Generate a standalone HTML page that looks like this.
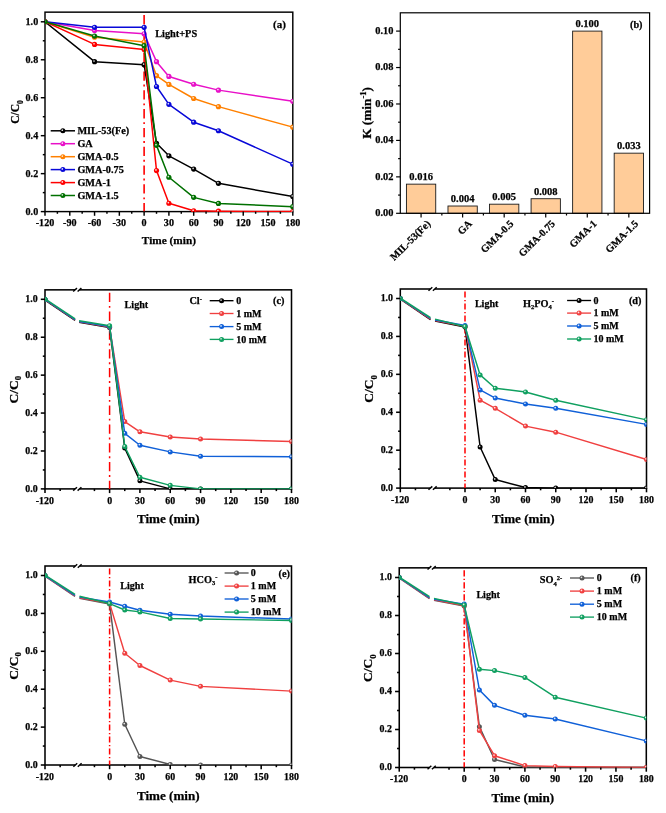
<!DOCTYPE html><html><head><meta charset="utf-8"><title>Figure</title><style>html,body{margin:0;padding:0;background:#fff}svg{display:block;will-change:transform}</style></head><body><svg width="666" height="813" viewBox="0 0 666 813" font-family="'Liberation Serif','Times New Roman',serif" font-weight="bold" fill="#000"><style>text{stroke:#000;stroke-width:0.25px;paint-order:stroke}</style><rect width="666" height="813" fill="#fff"/><clipPath id="ca"><rect x="45.0" y="12.15" width="247.8" height="199.75"/></clipPath><rect x="45.00" y="12.15" width="247.80" height="199.45" fill="none" stroke="#000" stroke-width="1.45"/><line x1="144.12" y1="15.10" x2="144.12" y2="211.60" stroke="#ff0000" stroke-width="1.6" stroke-dasharray="9.3 3.8 1.9 3.8"/><g clip-path="url(#ca)"><path d="M45.00 21.80 L94.56 61.66 L144.12 64.69 L156.51 143.27 L168.90 155.80 L193.68 169.08 L218.46 183.32 L292.80 196.61" fill="none" stroke="#000000" stroke-width="1.5" stroke-linejoin="round"/><circle cx="45.00" cy="21.80" r="2.6" fill="#000000"/><circle cx="44.45" cy="21.15" r="0.85" fill="#fff" fill-opacity="0.85"/><circle cx="94.56" cy="61.66" r="2.6" fill="#000000"/><circle cx="94.01" cy="61.01" r="0.85" fill="#fff" fill-opacity="0.85"/><circle cx="144.12" cy="64.69" r="2.6" fill="#000000"/><circle cx="143.57" cy="64.04" r="0.85" fill="#fff" fill-opacity="0.85"/><circle cx="156.51" cy="143.27" r="2.6" fill="#000000"/><circle cx="155.96" cy="142.62" r="0.85" fill="#fff" fill-opacity="0.85"/><circle cx="168.90" cy="155.80" r="2.6" fill="#000000"/><circle cx="168.35" cy="155.15" r="0.85" fill="#fff" fill-opacity="0.85"/><circle cx="193.68" cy="169.08" r="2.6" fill="#000000"/><circle cx="193.13" cy="168.43" r="0.85" fill="#fff" fill-opacity="0.85"/><circle cx="218.46" cy="183.32" r="2.6" fill="#000000"/><circle cx="217.91" cy="182.67" r="0.85" fill="#fff" fill-opacity="0.85"/><circle cx="292.80" cy="196.61" r="2.6" fill="#000000"/><circle cx="292.25" cy="195.96" r="0.85" fill="#fff" fill-opacity="0.85"/><path d="M45.00 21.80 L94.56 30.53 L144.12 33.76 L156.51 61.66 L168.90 76.46 L193.68 84.24 L218.46 90.13 L292.80 101.33" fill="none" stroke="#e810c8" stroke-width="1.5" stroke-linejoin="round"/><circle cx="45.00" cy="21.80" r="2.6" fill="#e810c8"/><circle cx="44.45" cy="21.15" r="0.85" fill="#fff" fill-opacity="0.85"/><circle cx="94.56" cy="30.53" r="2.6" fill="#e810c8"/><circle cx="94.01" cy="29.88" r="0.85" fill="#fff" fill-opacity="0.85"/><circle cx="144.12" cy="33.76" r="2.6" fill="#e810c8"/><circle cx="143.57" cy="33.11" r="0.85" fill="#fff" fill-opacity="0.85"/><circle cx="156.51" cy="61.66" r="2.6" fill="#e810c8"/><circle cx="155.96" cy="61.01" r="0.85" fill="#fff" fill-opacity="0.85"/><circle cx="168.90" cy="76.46" r="2.6" fill="#e810c8"/><circle cx="168.35" cy="75.81" r="0.85" fill="#fff" fill-opacity="0.85"/><circle cx="193.68" cy="84.24" r="2.6" fill="#e810c8"/><circle cx="193.13" cy="83.59" r="0.85" fill="#fff" fill-opacity="0.85"/><circle cx="218.46" cy="90.13" r="2.6" fill="#e810c8"/><circle cx="217.91" cy="89.48" r="0.85" fill="#fff" fill-opacity="0.85"/><circle cx="292.80" cy="101.33" r="2.6" fill="#e810c8"/><circle cx="292.25" cy="100.68" r="0.85" fill="#fff" fill-opacity="0.85"/><path d="M45.00 21.80 L94.56 37.17 L144.12 42.11 L156.51 75.70 L168.90 84.43 L193.68 98.48 L218.46 106.64 L292.80 127.14" fill="none" stroke="#ff8000" stroke-width="1.5" stroke-linejoin="round"/><circle cx="45.00" cy="21.80" r="2.6" fill="#ff8000"/><circle cx="44.45" cy="21.15" r="0.85" fill="#fff" fill-opacity="0.85"/><circle cx="94.56" cy="37.17" r="2.6" fill="#ff8000"/><circle cx="94.01" cy="36.52" r="0.85" fill="#fff" fill-opacity="0.85"/><circle cx="144.12" cy="42.11" r="2.6" fill="#ff8000"/><circle cx="143.57" cy="41.46" r="0.85" fill="#fff" fill-opacity="0.85"/><circle cx="156.51" cy="75.70" r="2.6" fill="#ff8000"/><circle cx="155.96" cy="75.05" r="0.85" fill="#fff" fill-opacity="0.85"/><circle cx="168.90" cy="84.43" r="2.6" fill="#ff8000"/><circle cx="168.35" cy="83.78" r="0.85" fill="#fff" fill-opacity="0.85"/><circle cx="193.68" cy="98.48" r="2.6" fill="#ff8000"/><circle cx="193.13" cy="97.83" r="0.85" fill="#fff" fill-opacity="0.85"/><circle cx="218.46" cy="106.64" r="2.6" fill="#ff8000"/><circle cx="217.91" cy="105.99" r="0.85" fill="#fff" fill-opacity="0.85"/><circle cx="292.80" cy="127.14" r="2.6" fill="#ff8000"/><circle cx="292.25" cy="126.49" r="0.85" fill="#fff" fill-opacity="0.85"/><path d="M45.00 21.80 L94.56 27.30 L144.12 27.30 L156.51 86.52 L168.90 104.36 L193.68 122.20 L218.46 130.75 L292.80 164.15" fill="none" stroke="#0808d8" stroke-width="1.5" stroke-linejoin="round"/><circle cx="45.00" cy="21.80" r="2.6" fill="#0808d8"/><circle cx="44.45" cy="21.15" r="0.85" fill="#fff" fill-opacity="0.85"/><circle cx="94.56" cy="27.30" r="2.6" fill="#0808d8"/><circle cx="94.01" cy="26.65" r="0.85" fill="#fff" fill-opacity="0.85"/><circle cx="144.12" cy="27.30" r="2.6" fill="#0808d8"/><circle cx="143.57" cy="26.65" r="0.85" fill="#fff" fill-opacity="0.85"/><circle cx="156.51" cy="86.52" r="2.6" fill="#0808d8"/><circle cx="155.96" cy="85.87" r="0.85" fill="#fff" fill-opacity="0.85"/><circle cx="168.90" cy="104.36" r="2.6" fill="#0808d8"/><circle cx="168.35" cy="103.71" r="0.85" fill="#fff" fill-opacity="0.85"/><circle cx="193.68" cy="122.20" r="2.6" fill="#0808d8"/><circle cx="193.13" cy="121.55" r="0.85" fill="#fff" fill-opacity="0.85"/><circle cx="218.46" cy="130.75" r="2.6" fill="#0808d8"/><circle cx="217.91" cy="130.10" r="0.85" fill="#fff" fill-opacity="0.85"/><circle cx="292.80" cy="164.15" r="2.6" fill="#0808d8"/><circle cx="292.25" cy="163.50" r="0.85" fill="#fff" fill-opacity="0.85"/><path d="M45.00 21.80 L94.56 44.39 L144.12 49.51 L156.51 170.60 L168.90 203.25 L193.68 210.84 L218.46 211.22 L292.80 211.60" fill="none" stroke="#ff0000" stroke-width="1.5" stroke-linejoin="round"/><circle cx="45.00" cy="21.80" r="2.6" fill="#ff0000"/><circle cx="44.45" cy="21.15" r="0.85" fill="#fff" fill-opacity="0.85"/><circle cx="94.56" cy="44.39" r="2.6" fill="#ff0000"/><circle cx="94.01" cy="43.74" r="0.85" fill="#fff" fill-opacity="0.85"/><circle cx="144.12" cy="49.51" r="2.6" fill="#ff0000"/><circle cx="143.57" cy="48.86" r="0.85" fill="#fff" fill-opacity="0.85"/><circle cx="156.51" cy="170.60" r="2.6" fill="#ff0000"/><circle cx="155.96" cy="169.95" r="0.85" fill="#fff" fill-opacity="0.85"/><circle cx="168.90" cy="203.25" r="2.6" fill="#ff0000"/><circle cx="168.35" cy="202.60" r="0.85" fill="#fff" fill-opacity="0.85"/><circle cx="193.68" cy="210.84" r="2.6" fill="#ff0000"/><circle cx="193.13" cy="210.19" r="0.85" fill="#fff" fill-opacity="0.85"/><circle cx="218.46" cy="211.22" r="2.6" fill="#ff0000"/><circle cx="217.91" cy="210.57" r="0.85" fill="#fff" fill-opacity="0.85"/><circle cx="292.80" cy="211.60" r="2.6" fill="#ff0000"/><circle cx="292.25" cy="210.95" r="0.85" fill="#fff" fill-opacity="0.85"/><path d="M45.00 21.80 L94.56 36.03 L144.12 45.71 L156.51 145.36 L168.90 177.25 L193.68 197.36 L218.46 203.44 L292.80 206.67" fill="none" stroke="#007000" stroke-width="1.5" stroke-linejoin="round"/><circle cx="45.00" cy="21.80" r="2.6" fill="#007000"/><circle cx="44.45" cy="21.15" r="0.85" fill="#fff" fill-opacity="0.85"/><circle cx="94.56" cy="36.03" r="2.6" fill="#007000"/><circle cx="94.01" cy="35.38" r="0.85" fill="#fff" fill-opacity="0.85"/><circle cx="144.12" cy="45.71" r="2.6" fill="#007000"/><circle cx="143.57" cy="45.06" r="0.85" fill="#fff" fill-opacity="0.85"/><circle cx="156.51" cy="145.36" r="2.6" fill="#007000"/><circle cx="155.96" cy="144.71" r="0.85" fill="#fff" fill-opacity="0.85"/><circle cx="168.90" cy="177.25" r="2.6" fill="#007000"/><circle cx="168.35" cy="176.60" r="0.85" fill="#fff" fill-opacity="0.85"/><circle cx="193.68" cy="197.36" r="2.6" fill="#007000"/><circle cx="193.13" cy="196.71" r="0.85" fill="#fff" fill-opacity="0.85"/><circle cx="218.46" cy="203.44" r="2.6" fill="#007000"/><circle cx="217.91" cy="202.79" r="0.85" fill="#fff" fill-opacity="0.85"/><circle cx="292.80" cy="206.67" r="2.6" fill="#007000"/><circle cx="292.25" cy="206.02" r="0.85" fill="#fff" fill-opacity="0.85"/></g><line x1="40.80" y1="211.60" x2="45.00" y2="211.60" stroke="#000" stroke-width="1.45"/><text x="38.20" y="214.63" font-size="10.1" text-anchor="end" >0.0</text><line x1="40.80" y1="173.64" x2="45.00" y2="173.64" stroke="#000" stroke-width="1.45"/><text x="38.20" y="176.67" font-size="10.1" text-anchor="end" >0.2</text><line x1="40.80" y1="135.68" x2="45.00" y2="135.68" stroke="#000" stroke-width="1.45"/><text x="38.20" y="138.71" font-size="10.1" text-anchor="end" >0.4</text><line x1="40.80" y1="97.72" x2="45.00" y2="97.72" stroke="#000" stroke-width="1.45"/><text x="38.20" y="100.75" font-size="10.1" text-anchor="end" >0.6</text><line x1="40.80" y1="59.76" x2="45.00" y2="59.76" stroke="#000" stroke-width="1.45"/><text x="38.20" y="62.79" font-size="10.1" text-anchor="end" >0.8</text><line x1="40.80" y1="21.80" x2="45.00" y2="21.80" stroke="#000" stroke-width="1.45"/><text x="38.20" y="24.83" font-size="10.1" text-anchor="end" >1.0</text><line x1="42.80" y1="192.62" x2="45.00" y2="192.62" stroke="#000" stroke-width="1.45"/><line x1="42.80" y1="154.66" x2="45.00" y2="154.66" stroke="#000" stroke-width="1.45"/><line x1="42.80" y1="116.70" x2="45.00" y2="116.70" stroke="#000" stroke-width="1.45"/><line x1="42.80" y1="78.74" x2="45.00" y2="78.74" stroke="#000" stroke-width="1.45"/><line x1="42.80" y1="40.78" x2="45.00" y2="40.78" stroke="#000" stroke-width="1.45"/><line x1="45.00" y1="211.60" x2="45.00" y2="215.80" stroke="#000" stroke-width="1.45"/><text x="45.00" y="226.30" font-size="10.1" text-anchor="middle" >-120</text><line x1="69.78" y1="211.60" x2="69.78" y2="215.80" stroke="#000" stroke-width="1.45"/><text x="69.78" y="226.30" font-size="10.1" text-anchor="middle" >-90</text><line x1="94.56" y1="211.60" x2="94.56" y2="215.80" stroke="#000" stroke-width="1.45"/><text x="94.56" y="226.30" font-size="10.1" text-anchor="middle" >-60</text><line x1="119.34" y1="211.60" x2="119.34" y2="215.80" stroke="#000" stroke-width="1.45"/><text x="119.34" y="226.30" font-size="10.1" text-anchor="middle" >-30</text><line x1="144.12" y1="211.60" x2="144.12" y2="215.80" stroke="#000" stroke-width="1.45"/><text x="144.12" y="226.30" font-size="10.1" text-anchor="middle" >0</text><line x1="168.90" y1="211.60" x2="168.90" y2="215.80" stroke="#000" stroke-width="1.45"/><text x="168.90" y="226.30" font-size="10.1" text-anchor="middle" >30</text><line x1="193.68" y1="211.60" x2="193.68" y2="215.80" stroke="#000" stroke-width="1.45"/><text x="193.68" y="226.30" font-size="10.1" text-anchor="middle" >60</text><line x1="218.46" y1="211.60" x2="218.46" y2="215.80" stroke="#000" stroke-width="1.45"/><text x="218.46" y="226.30" font-size="10.1" text-anchor="middle" >90</text><line x1="243.24" y1="211.60" x2="243.24" y2="215.80" stroke="#000" stroke-width="1.45"/><text x="243.24" y="226.30" font-size="10.1" text-anchor="middle" >120</text><line x1="268.02" y1="211.60" x2="268.02" y2="215.80" stroke="#000" stroke-width="1.45"/><text x="268.02" y="226.30" font-size="10.1" text-anchor="middle" >150</text><line x1="292.80" y1="211.60" x2="292.80" y2="215.80" stroke="#000" stroke-width="1.45"/><text x="292.80" y="226.30" font-size="10.1" text-anchor="middle" >180</text><line x1="57.39" y1="211.60" x2="57.39" y2="213.80" stroke="#000" stroke-width="1.45"/><line x1="82.17" y1="211.60" x2="82.17" y2="213.80" stroke="#000" stroke-width="1.45"/><line x1="106.95" y1="211.60" x2="106.95" y2="213.80" stroke="#000" stroke-width="1.45"/><line x1="131.73" y1="211.60" x2="131.73" y2="213.80" stroke="#000" stroke-width="1.45"/><line x1="156.51" y1="211.60" x2="156.51" y2="213.80" stroke="#000" stroke-width="1.45"/><line x1="181.29" y1="211.60" x2="181.29" y2="213.80" stroke="#000" stroke-width="1.45"/><line x1="206.07" y1="211.60" x2="206.07" y2="213.80" stroke="#000" stroke-width="1.45"/><line x1="230.85" y1="211.60" x2="230.85" y2="213.80" stroke="#000" stroke-width="1.45"/><line x1="255.63" y1="211.60" x2="255.63" y2="213.80" stroke="#000" stroke-width="1.45"/><line x1="280.41" y1="211.60" x2="280.41" y2="213.80" stroke="#000" stroke-width="1.45"/><text x="168.90" y="244.00" font-size="11.3" text-anchor="middle" >Time (min)</text><text transform="translate(19.40,112.00) rotate(-90)" font-size="11.6" text-anchor="middle">C/C<tspan dy="3.25" font-size="7.54">0</tspan><tspan dy="-3.25" font-size="11.6">&#8203;</tspan></text><text x="155.20" y="36.70" font-size="10.3" text-anchor="start" >Light+PS</text><text x="273.00" y="27.90" font-size="11.0" text-anchor="start" >(a)</text><line x1="50.70" y1="130.80" x2="75.00" y2="130.80" stroke="#000000" stroke-width="1.5"/><circle cx="62.85" cy="130.80" r="2.5" fill="#000000"/><circle cx="62.30" cy="130.15" r="0.85" fill="#fff" fill-opacity="0.85"/><text x="77.40" y="134.29" font-size="10.25" text-anchor="start" >MIL-53(Fe)</text><line x1="50.70" y1="143.70" x2="75.00" y2="143.70" stroke="#e810c8" stroke-width="1.5"/><circle cx="62.85" cy="143.70" r="2.5" fill="#e810c8"/><circle cx="62.30" cy="143.05" r="0.85" fill="#fff" fill-opacity="0.85"/><text x="77.40" y="147.19" font-size="10.25" text-anchor="start" >GA</text><line x1="50.70" y1="156.70" x2="75.00" y2="156.70" stroke="#ff8000" stroke-width="1.5"/><circle cx="62.85" cy="156.70" r="2.5" fill="#ff8000"/><circle cx="62.30" cy="156.05" r="0.85" fill="#fff" fill-opacity="0.85"/><text x="77.40" y="160.19" font-size="10.25" text-anchor="start" >GMA-0.5</text><line x1="50.70" y1="169.60" x2="75.00" y2="169.60" stroke="#0808d8" stroke-width="1.5"/><circle cx="62.85" cy="169.60" r="2.5" fill="#0808d8"/><circle cx="62.30" cy="168.95" r="0.85" fill="#fff" fill-opacity="0.85"/><text x="77.40" y="173.09" font-size="10.25" text-anchor="start" >GMA-0.75</text><line x1="50.70" y1="182.60" x2="75.00" y2="182.60" stroke="#ff0000" stroke-width="1.5"/><circle cx="62.85" cy="182.60" r="2.5" fill="#ff0000"/><circle cx="62.30" cy="181.95" r="0.85" fill="#fff" fill-opacity="0.85"/><text x="77.40" y="186.09" font-size="10.25" text-anchor="start" >GMA-1</text><line x1="50.70" y1="195.50" x2="75.00" y2="195.50" stroke="#007000" stroke-width="1.5"/><circle cx="62.85" cy="195.50" r="2.5" fill="#007000"/><circle cx="62.30" cy="194.85" r="0.85" fill="#fff" fill-opacity="0.85"/><text x="77.40" y="198.99" font-size="10.25" text-anchor="start" >GMA-1.5</text><rect x="406.43" y="184.15" width="29.3" height="29.15" fill="#ffcc99" stroke="#1a1a1a" stroke-width="0.9"/><text x="421.07" y="180.45" font-size="10.5" text-anchor="middle" >0.016</text><line x1="421.07" y1="213.3" x2="421.07" y2="217.5" stroke="#000" stroke-width="1.2"/><text transform="translate(431.07,224.30) rotate(-45)" font-size="10.3" text-anchor="end">MIL-53(Fe)</text><rect x="447.98" y="206.01" width="29.3" height="7.29" fill="#ffcc99" stroke="#1a1a1a" stroke-width="0.9"/><text x="462.62" y="202.31" font-size="10.5" text-anchor="middle" >0.004</text><line x1="462.62" y1="213.3" x2="462.62" y2="217.5" stroke="#000" stroke-width="1.2"/><text transform="translate(472.62,224.30) rotate(-45)" font-size="10.3" text-anchor="end">GA</text><rect x="489.53" y="204.19" width="29.3" height="9.11" fill="#ffcc99" stroke="#1a1a1a" stroke-width="0.9"/><text x="504.18" y="200.49" font-size="10.5" text-anchor="middle" >0.005</text><line x1="504.18" y1="213.3" x2="504.18" y2="217.5" stroke="#000" stroke-width="1.2"/><text transform="translate(514.17,224.30) rotate(-45)" font-size="10.3" text-anchor="end">GMA-0.5</text><rect x="531.08" y="198.72" width="29.3" height="14.58" fill="#ffcc99" stroke="#1a1a1a" stroke-width="0.9"/><text x="545.73" y="195.02" font-size="10.5" text-anchor="middle" >0.008</text><line x1="545.73" y1="213.3" x2="545.73" y2="217.5" stroke="#000" stroke-width="1.2"/><text transform="translate(555.73,224.30) rotate(-45)" font-size="10.3" text-anchor="end">GMA-0.75</text><rect x="572.63" y="31.10" width="29.3" height="182.20" fill="#ffcc99" stroke="#1a1a1a" stroke-width="0.9"/><text x="587.28" y="27.40" font-size="10.5" text-anchor="middle" >0.100</text><line x1="587.28" y1="213.3" x2="587.28" y2="217.5" stroke="#000" stroke-width="1.2"/><text transform="translate(597.28,224.30) rotate(-45)" font-size="10.3" text-anchor="end">GMA-1</text><rect x="614.18" y="153.17" width="29.3" height="60.13" fill="#ffcc99" stroke="#1a1a1a" stroke-width="0.9"/><text x="628.83" y="149.47" font-size="10.5" text-anchor="middle" >0.033</text><line x1="628.83" y1="213.3" x2="628.83" y2="217.5" stroke="#000" stroke-width="1.2"/><text transform="translate(638.83,224.30) rotate(-45)" font-size="10.3" text-anchor="end">GMA-1.5</text><line x1="441.85" y1="213.3" x2="441.85" y2="215.5" stroke="#000" stroke-width="1.2"/><line x1="483.40" y1="213.3" x2="483.40" y2="215.5" stroke="#000" stroke-width="1.2"/><line x1="524.95" y1="213.3" x2="524.95" y2="215.5" stroke="#000" stroke-width="1.2"/><line x1="566.50" y1="213.3" x2="566.50" y2="215.5" stroke="#000" stroke-width="1.2"/><line x1="608.05" y1="213.3" x2="608.05" y2="215.5" stroke="#000" stroke-width="1.2"/><rect x="400.30" y="12.80" width="249.30" height="200.50" fill="none" stroke="#000" stroke-width="1.2"/><line x1="396.10" y1="213.30" x2="400.30" y2="213.30" stroke="#000" stroke-width="1.2"/><text x="393.50" y="216.06" font-size="10.4" text-anchor="end" >0.00</text><line x1="396.10" y1="176.86" x2="400.30" y2="176.86" stroke="#000" stroke-width="1.2"/><text x="393.50" y="179.62" font-size="10.4" text-anchor="end" >0.02</text><line x1="396.10" y1="140.42" x2="400.30" y2="140.42" stroke="#000" stroke-width="1.2"/><text x="393.50" y="143.18" font-size="10.4" text-anchor="end" >0.04</text><line x1="396.10" y1="103.98" x2="400.30" y2="103.98" stroke="#000" stroke-width="1.2"/><text x="393.50" y="106.74" font-size="10.4" text-anchor="end" >0.06</text><line x1="396.10" y1="67.54" x2="400.30" y2="67.54" stroke="#000" stroke-width="1.2"/><text x="393.50" y="70.30" font-size="10.4" text-anchor="end" >0.08</text><line x1="396.10" y1="31.10" x2="400.30" y2="31.10" stroke="#000" stroke-width="1.2"/><text x="393.50" y="33.86" font-size="10.4" text-anchor="end" >0.10</text><line x1="398.10" y1="195.08" x2="400.30" y2="195.08" stroke="#000" stroke-width="1.2"/><line x1="398.10" y1="158.64" x2="400.30" y2="158.64" stroke="#000" stroke-width="1.2"/><line x1="398.10" y1="122.20" x2="400.30" y2="122.20" stroke="#000" stroke-width="1.2"/><line x1="398.10" y1="85.76" x2="400.30" y2="85.76" stroke="#000" stroke-width="1.2"/><line x1="398.10" y1="49.32" x2="400.30" y2="49.32" stroke="#000" stroke-width="1.2"/><text transform="translate(371.00,112.90) rotate(-90)" font-size="13.3" text-anchor="middle">K (min<tspan dy="-5.05" font-size="8.65">-1</tspan><tspan dy="5.05" font-size="13.3">&#8203;</tspan>)</text><text x="630.00" y="28.00" font-size="10.2" text-anchor="start" >(b)</text><clipPath id="cc"><rect x="45.0" y="289.85" width="246.5" height="199.34999999999997"/></clipPath><rect x="45.00" y="289.85" width="246.50" height="199.05" fill="none" stroke="#000" stroke-width="1.55"/><line x1="109.60" y1="292.80" x2="109.60" y2="488.90" stroke="#ff0000" stroke-width="1.5" stroke-dasharray="9.3 3.8 1.9 3.8"/><g clip-path="url(#cc)"><path d="M45.00 300.02 L75.10 320.40" fill="none" stroke="#000000" stroke-width="1.45" stroke-linejoin="round"/><path d="M79.10 322.30 L109.60 327.58 L124.76 448.10 L139.92 480.83 L170.23 488.90 L200.55 488.90 L291.50 488.90" fill="none" stroke="#000000" stroke-width="1.45" stroke-linejoin="round"/><circle cx="45.00" cy="299.30" r="2.5" fill="#000000"/><circle cx="44.45" cy="298.65" r="0.85" fill="#fff" fill-opacity="0.85"/><circle cx="109.60" cy="327.58" r="2.5" fill="#000000"/><circle cx="109.05" cy="326.93" r="0.85" fill="#fff" fill-opacity="0.85"/><circle cx="124.76" cy="448.10" r="2.5" fill="#000000"/><circle cx="124.21" cy="447.45" r="0.85" fill="#fff" fill-opacity="0.85"/><circle cx="139.92" cy="480.83" r="2.5" fill="#000000"/><circle cx="139.37" cy="480.18" r="0.85" fill="#fff" fill-opacity="0.85"/><circle cx="170.23" cy="488.90" r="2.5" fill="#000000"/><circle cx="169.68" cy="488.25" r="0.85" fill="#fff" fill-opacity="0.85"/><circle cx="200.55" cy="488.90" r="2.5" fill="#000000"/><circle cx="200.00" cy="488.25" r="0.85" fill="#fff" fill-opacity="0.85"/><circle cx="291.50" cy="488.90" r="2.5" fill="#000000"/><circle cx="290.95" cy="488.25" r="0.85" fill="#fff" fill-opacity="0.85"/><path d="M45.00 299.70 L75.10 320.00" fill="none" stroke="#f04040" stroke-width="1.45" stroke-linejoin="round"/><path d="M79.10 321.90 L109.60 327.01 L124.76 421.61 L139.92 431.83 L170.23 436.94 L200.55 439.02 L291.50 441.48" fill="none" stroke="#f04040" stroke-width="1.45" stroke-linejoin="round"/><circle cx="45.00" cy="299.30" r="2.5" fill="#f04040"/><circle cx="44.45" cy="298.65" r="0.85" fill="#fff" fill-opacity="0.85"/><circle cx="109.60" cy="327.01" r="2.5" fill="#f04040"/><circle cx="109.05" cy="326.36" r="0.85" fill="#fff" fill-opacity="0.85"/><circle cx="124.76" cy="421.61" r="2.5" fill="#f04040"/><circle cx="124.21" cy="420.96" r="0.85" fill="#fff" fill-opacity="0.85"/><circle cx="139.92" cy="431.83" r="2.5" fill="#f04040"/><circle cx="139.37" cy="431.18" r="0.85" fill="#fff" fill-opacity="0.85"/><circle cx="170.23" cy="436.94" r="2.5" fill="#f04040"/><circle cx="169.68" cy="436.29" r="0.85" fill="#fff" fill-opacity="0.85"/><circle cx="200.55" cy="439.02" r="2.5" fill="#f04040"/><circle cx="200.00" cy="438.37" r="0.85" fill="#fff" fill-opacity="0.85"/><circle cx="291.50" cy="441.48" r="2.5" fill="#f04040"/><circle cx="290.95" cy="440.83" r="0.85" fill="#fff" fill-opacity="0.85"/><path d="M45.00 299.38 L75.10 319.60" fill="none" stroke="#1060d8" stroke-width="1.45" stroke-linejoin="round"/><path d="M79.10 321.50 L109.60 326.44 L124.76 433.34 L139.92 445.26 L170.23 451.88 L200.55 456.24 L291.50 456.80" fill="none" stroke="#1060d8" stroke-width="1.45" stroke-linejoin="round"/><circle cx="45.00" cy="299.30" r="2.5" fill="#1060d8"/><circle cx="44.45" cy="298.65" r="0.85" fill="#fff" fill-opacity="0.85"/><circle cx="109.60" cy="326.44" r="2.5" fill="#1060d8"/><circle cx="109.05" cy="325.79" r="0.85" fill="#fff" fill-opacity="0.85"/><circle cx="124.76" cy="433.34" r="2.5" fill="#1060d8"/><circle cx="124.21" cy="432.69" r="0.85" fill="#fff" fill-opacity="0.85"/><circle cx="139.92" cy="445.26" r="2.5" fill="#1060d8"/><circle cx="139.37" cy="444.61" r="0.85" fill="#fff" fill-opacity="0.85"/><circle cx="170.23" cy="451.88" r="2.5" fill="#1060d8"/><circle cx="169.68" cy="451.23" r="0.85" fill="#fff" fill-opacity="0.85"/><circle cx="200.55" cy="456.24" r="2.5" fill="#1060d8"/><circle cx="200.00" cy="455.59" r="0.85" fill="#fff" fill-opacity="0.85"/><circle cx="291.50" cy="456.80" r="2.5" fill="#1060d8"/><circle cx="290.95" cy="456.15" r="0.85" fill="#fff" fill-opacity="0.85"/><path d="M45.00 298.82 L75.10 318.90" fill="none" stroke="#10a060" stroke-width="1.45" stroke-linejoin="round"/><path d="M79.10 320.80 L109.60 325.69 L124.76 446.59 L139.92 477.24 L170.23 485.37 L200.55 488.90 L291.50 488.90" fill="none" stroke="#10a060" stroke-width="1.45" stroke-linejoin="round"/><circle cx="45.00" cy="299.30" r="2.5" fill="#10a060"/><circle cx="44.45" cy="298.65" r="0.85" fill="#fff" fill-opacity="0.85"/><circle cx="109.60" cy="325.69" r="2.5" fill="#10a060"/><circle cx="109.05" cy="325.04" r="0.85" fill="#fff" fill-opacity="0.85"/><circle cx="124.76" cy="446.59" r="2.5" fill="#10a060"/><circle cx="124.21" cy="445.94" r="0.85" fill="#fff" fill-opacity="0.85"/><circle cx="139.92" cy="477.24" r="2.5" fill="#10a060"/><circle cx="139.37" cy="476.59" r="0.85" fill="#fff" fill-opacity="0.85"/><circle cx="170.23" cy="485.37" r="2.5" fill="#10a060"/><circle cx="169.68" cy="484.72" r="0.85" fill="#fff" fill-opacity="0.85"/><circle cx="200.55" cy="488.90" r="2.5" fill="#10a060"/><circle cx="200.00" cy="488.25" r="0.85" fill="#fff" fill-opacity="0.85"/><circle cx="291.50" cy="488.90" r="2.5" fill="#10a060"/><circle cx="290.95" cy="488.25" r="0.85" fill="#fff" fill-opacity="0.85"/></g><rect x="75.00" y="288.65" width="4.6" height="2.4" fill="#fff"/><line x1="73.20" y1="291.55" x2="77.00" y2="288.15" stroke="#000" stroke-width="1.45"/><line x1="77.60" y1="291.55" x2="81.40" y2="288.15" stroke="#000" stroke-width="1.45"/><rect x="75.00" y="487.70" width="4.6" height="2.4" fill="#fff"/><line x1="73.20" y1="490.60" x2="77.00" y2="487.20" stroke="#000" stroke-width="1.45"/><line x1="77.60" y1="490.60" x2="81.40" y2="487.20" stroke="#000" stroke-width="1.45"/><line x1="40.80" y1="488.90" x2="45.00" y2="488.90" stroke="#000" stroke-width="1.55"/><text x="37.70" y="491.87" font-size="9.9" text-anchor="end" >0.0</text><line x1="40.80" y1="450.98" x2="45.00" y2="450.98" stroke="#000" stroke-width="1.55"/><text x="37.70" y="453.95" font-size="9.9" text-anchor="end" >0.2</text><line x1="40.80" y1="413.06" x2="45.00" y2="413.06" stroke="#000" stroke-width="1.55"/><text x="37.70" y="416.03" font-size="9.9" text-anchor="end" >0.4</text><line x1="40.80" y1="375.14" x2="45.00" y2="375.14" stroke="#000" stroke-width="1.55"/><text x="37.70" y="378.11" font-size="9.9" text-anchor="end" >0.6</text><line x1="40.80" y1="337.22" x2="45.00" y2="337.22" stroke="#000" stroke-width="1.55"/><text x="37.70" y="340.19" font-size="9.9" text-anchor="end" >0.8</text><line x1="40.80" y1="299.30" x2="45.00" y2="299.30" stroke="#000" stroke-width="1.55"/><text x="37.70" y="302.27" font-size="9.9" text-anchor="end" >1.0</text><line x1="42.80" y1="469.94" x2="45.00" y2="469.94" stroke="#000" stroke-width="1.55"/><line x1="42.80" y1="432.02" x2="45.00" y2="432.02" stroke="#000" stroke-width="1.55"/><line x1="42.80" y1="394.10" x2="45.00" y2="394.10" stroke="#000" stroke-width="1.55"/><line x1="42.80" y1="356.18" x2="45.00" y2="356.18" stroke="#000" stroke-width="1.55"/><line x1="42.80" y1="318.26" x2="45.00" y2="318.26" stroke="#000" stroke-width="1.55"/><line x1="109.60" y1="488.90" x2="109.60" y2="493.10" stroke="#000" stroke-width="1.55"/><text x="109.60" y="503.60" font-size="9.9" text-anchor="middle" >0</text><line x1="139.92" y1="488.90" x2="139.92" y2="493.10" stroke="#000" stroke-width="1.55"/><text x="139.92" y="503.60" font-size="9.9" text-anchor="middle" >30</text><line x1="170.23" y1="488.90" x2="170.23" y2="493.10" stroke="#000" stroke-width="1.55"/><text x="170.23" y="503.60" font-size="9.9" text-anchor="middle" >60</text><line x1="200.55" y1="488.90" x2="200.55" y2="493.10" stroke="#000" stroke-width="1.55"/><text x="200.55" y="503.60" font-size="9.9" text-anchor="middle" >90</text><line x1="230.87" y1="488.90" x2="230.87" y2="493.10" stroke="#000" stroke-width="1.55"/><text x="230.87" y="503.60" font-size="9.9" text-anchor="middle" >120</text><line x1="261.18" y1="488.90" x2="261.18" y2="493.10" stroke="#000" stroke-width="1.55"/><text x="261.18" y="503.60" font-size="9.9" text-anchor="middle" >150</text><line x1="291.50" y1="488.90" x2="291.50" y2="493.10" stroke="#000" stroke-width="1.55"/><text x="291.50" y="503.60" font-size="9.9" text-anchor="middle" >180</text><line x1="94.44" y1="488.90" x2="94.44" y2="491.10" stroke="#000" stroke-width="1.55"/><line x1="124.76" y1="488.90" x2="124.76" y2="491.10" stroke="#000" stroke-width="1.55"/><line x1="155.07" y1="488.90" x2="155.07" y2="491.10" stroke="#000" stroke-width="1.55"/><line x1="185.39" y1="488.90" x2="185.39" y2="491.10" stroke="#000" stroke-width="1.55"/><line x1="215.71" y1="488.90" x2="215.71" y2="491.10" stroke="#000" stroke-width="1.55"/><line x1="246.03" y1="488.90" x2="246.03" y2="491.10" stroke="#000" stroke-width="1.55"/><line x1="276.34" y1="488.90" x2="276.34" y2="491.10" stroke="#000" stroke-width="1.55"/><line x1="60.16" y1="488.90" x2="60.16" y2="491.10" stroke="#000" stroke-width="1.55"/><line x1="45.00" y1="488.90" x2="45.00" y2="493.10" stroke="#000" stroke-width="1.55"/><text x="44.80" y="503.60" font-size="9.9" text-anchor="middle" >-120</text><text x="168.25" y="523.40" font-size="13.1" text-anchor="middle" >Time (min)</text><text transform="translate(17.70,389.77) rotate(-90)" font-size="13.5" text-anchor="middle">C/C<tspan dy="3.78" font-size="8.78">0</tspan><tspan dy="-3.78" font-size="13.5">&#8203;</tspan></text><text x="124.60" y="307.50" font-size="10.1" text-anchor="start" >Light</text><text x="189.40" y="304.30" font-size="10.3" text-anchor="start" >Cl<tspan dy="-3.80" font-size="6.50">-</tspan><tspan dy="3.80" font-size="10">&#8203;</tspan></text><text x="273.00" y="303.80" font-size="10.3" text-anchor="start" >(c)</text><line x1="209.70" y1="300.70" x2="233.50" y2="300.70" stroke="#000000" stroke-width="1.35"/><circle cx="221.60" cy="300.70" r="2.5" fill="#000000"/><circle cx="221.05" cy="300.05" r="0.85" fill="#fff" fill-opacity="0.85"/><text x="236.20" y="303.85" font-size="10.0" text-anchor="start" >0</text><line x1="209.70" y1="313.50" x2="233.50" y2="313.50" stroke="#f04040" stroke-width="1.35"/><circle cx="221.60" cy="313.50" r="2.5" fill="#f04040"/><circle cx="221.05" cy="312.85" r="0.85" fill="#fff" fill-opacity="0.85"/><text x="236.20" y="316.65" font-size="10.0" text-anchor="start" >1 mM</text><line x1="209.70" y1="326.60" x2="233.50" y2="326.60" stroke="#1060d8" stroke-width="1.35"/><circle cx="221.60" cy="326.60" r="2.5" fill="#1060d8"/><circle cx="221.05" cy="325.95" r="0.85" fill="#fff" fill-opacity="0.85"/><text x="236.20" y="329.75" font-size="10.0" text-anchor="start" >5 mM</text><line x1="209.70" y1="339.40" x2="233.50" y2="339.40" stroke="#10a060" stroke-width="1.35"/><circle cx="221.60" cy="339.40" r="2.5" fill="#10a060"/><circle cx="221.05" cy="338.75" r="0.85" fill="#fff" fill-opacity="0.85"/><text x="236.20" y="342.55" font-size="10.0" text-anchor="start" >10 mM</text><clipPath id="cd"><rect x="400.3" y="289.0" width="246.2" height="199.40000000000003"/></clipPath><rect x="400.30" y="289.00" width="246.20" height="199.10" fill="none" stroke="#000" stroke-width="1.55"/><line x1="465.00" y1="291.40" x2="465.00" y2="488.10" stroke="#ff0000" stroke-width="1.5" stroke-dasharray="6.2 2.3 1.3 2.2"/><g clip-path="url(#cd)"><path d="M400.30 299.02 L430.50 319.60" fill="none" stroke="#000000" stroke-width="1.45" stroke-linejoin="round"/><path d="M435.00 321.10 L465.00 326.94 L480.12 446.96 L495.25 479.57 L525.50 487.53 L555.75 488.10 L646.50 488.10" fill="none" stroke="#000000" stroke-width="1.45" stroke-linejoin="round"/><circle cx="400.30" cy="298.50" r="2.5" fill="#000000"/><circle cx="399.75" cy="297.85" r="0.85" fill="#fff" fill-opacity="0.85"/><circle cx="465.00" cy="326.94" r="2.5" fill="#000000"/><circle cx="464.45" cy="326.29" r="0.85" fill="#fff" fill-opacity="0.85"/><circle cx="480.12" cy="446.96" r="2.5" fill="#000000"/><circle cx="479.57" cy="446.31" r="0.85" fill="#fff" fill-opacity="0.85"/><circle cx="495.25" cy="479.57" r="2.5" fill="#000000"/><circle cx="494.70" cy="478.92" r="0.85" fill="#fff" fill-opacity="0.85"/><circle cx="525.50" cy="487.53" r="2.5" fill="#000000"/><circle cx="524.95" cy="486.88" r="0.85" fill="#fff" fill-opacity="0.85"/><circle cx="555.75" cy="488.10" r="2.5" fill="#000000"/><circle cx="555.20" cy="487.45" r="0.85" fill="#fff" fill-opacity="0.85"/><circle cx="646.50" cy="488.10" r="2.5" fill="#000000"/><circle cx="645.95" cy="487.45" r="0.85" fill="#fff" fill-opacity="0.85"/><path d="M400.30 298.82 L430.50 319.10" fill="none" stroke="#f04040" stroke-width="1.45" stroke-linejoin="round"/><path d="M435.00 320.60 L465.00 326.37 L480.12 400.13 L495.25 408.28 L525.50 426.10 L555.75 432.17 L646.50 459.47" fill="none" stroke="#f04040" stroke-width="1.45" stroke-linejoin="round"/><circle cx="400.30" cy="298.50" r="2.5" fill="#f04040"/><circle cx="399.75" cy="297.85" r="0.85" fill="#fff" fill-opacity="0.85"/><circle cx="465.00" cy="326.37" r="2.5" fill="#f04040"/><circle cx="464.45" cy="325.72" r="0.85" fill="#fff" fill-opacity="0.85"/><circle cx="480.12" cy="400.13" r="2.5" fill="#f04040"/><circle cx="479.57" cy="399.48" r="0.85" fill="#fff" fill-opacity="0.85"/><circle cx="495.25" cy="408.28" r="2.5" fill="#f04040"/><circle cx="494.70" cy="407.63" r="0.85" fill="#fff" fill-opacity="0.85"/><circle cx="525.50" cy="426.10" r="2.5" fill="#f04040"/><circle cx="524.95" cy="425.45" r="0.85" fill="#fff" fill-opacity="0.85"/><circle cx="555.75" cy="432.17" r="2.5" fill="#f04040"/><circle cx="555.20" cy="431.52" r="0.85" fill="#fff" fill-opacity="0.85"/><circle cx="646.50" cy="459.47" r="2.5" fill="#f04040"/><circle cx="645.95" cy="458.82" r="0.85" fill="#fff" fill-opacity="0.85"/><path d="M400.30 298.58 L430.50 318.50" fill="none" stroke="#1060d8" stroke-width="1.45" stroke-linejoin="round"/><path d="M435.00 320.00 L465.00 325.42 L480.12 389.89 L495.25 398.04 L525.50 403.92 L555.75 408.28 L646.50 424.39" fill="none" stroke="#1060d8" stroke-width="1.45" stroke-linejoin="round"/><circle cx="400.30" cy="298.50" r="2.5" fill="#1060d8"/><circle cx="399.75" cy="297.85" r="0.85" fill="#fff" fill-opacity="0.85"/><circle cx="465.00" cy="325.42" r="2.5" fill="#1060d8"/><circle cx="464.45" cy="324.77" r="0.85" fill="#fff" fill-opacity="0.85"/><circle cx="480.12" cy="389.89" r="2.5" fill="#1060d8"/><circle cx="479.57" cy="389.24" r="0.85" fill="#fff" fill-opacity="0.85"/><circle cx="495.25" cy="398.04" r="2.5" fill="#1060d8"/><circle cx="494.70" cy="397.39" r="0.85" fill="#fff" fill-opacity="0.85"/><circle cx="525.50" cy="403.92" r="2.5" fill="#1060d8"/><circle cx="524.95" cy="403.27" r="0.85" fill="#fff" fill-opacity="0.85"/><circle cx="555.75" cy="408.28" r="2.5" fill="#1060d8"/><circle cx="555.20" cy="407.63" r="0.85" fill="#fff" fill-opacity="0.85"/><circle cx="646.50" cy="424.39" r="2.5" fill="#1060d8"/><circle cx="645.95" cy="423.74" r="0.85" fill="#fff" fill-opacity="0.85"/><path d="M400.30 298.22 L430.50 317.60" fill="none" stroke="#10a060" stroke-width="1.45" stroke-linejoin="round"/><path d="M435.00 319.10 L465.00 326.56 L480.12 374.91 L495.25 388.18 L525.50 391.97 L555.75 400.32 L646.50 419.84" fill="none" stroke="#10a060" stroke-width="1.45" stroke-linejoin="round"/><circle cx="400.30" cy="298.50" r="2.5" fill="#10a060"/><circle cx="399.75" cy="297.85" r="0.85" fill="#fff" fill-opacity="0.85"/><circle cx="465.00" cy="326.56" r="2.5" fill="#10a060"/><circle cx="464.45" cy="325.91" r="0.85" fill="#fff" fill-opacity="0.85"/><circle cx="480.12" cy="374.91" r="2.5" fill="#10a060"/><circle cx="479.57" cy="374.26" r="0.85" fill="#fff" fill-opacity="0.85"/><circle cx="495.25" cy="388.18" r="2.5" fill="#10a060"/><circle cx="494.70" cy="387.53" r="0.85" fill="#fff" fill-opacity="0.85"/><circle cx="525.50" cy="391.97" r="2.5" fill="#10a060"/><circle cx="524.95" cy="391.32" r="0.85" fill="#fff" fill-opacity="0.85"/><circle cx="555.75" cy="400.32" r="2.5" fill="#10a060"/><circle cx="555.20" cy="399.67" r="0.85" fill="#fff" fill-opacity="0.85"/><circle cx="646.50" cy="419.84" r="2.5" fill="#10a060"/><circle cx="645.95" cy="419.19" r="0.85" fill="#fff" fill-opacity="0.85"/></g><rect x="430.30" y="287.80" width="4.6" height="2.4" fill="#fff"/><line x1="428.50" y1="290.70" x2="432.30" y2="287.30" stroke="#000" stroke-width="1.45"/><line x1="432.90" y1="290.70" x2="436.70" y2="287.30" stroke="#000" stroke-width="1.45"/><rect x="430.30" y="486.90" width="4.6" height="2.4" fill="#fff"/><line x1="428.50" y1="489.80" x2="432.30" y2="486.40" stroke="#000" stroke-width="1.45"/><line x1="432.90" y1="489.80" x2="436.70" y2="486.40" stroke="#000" stroke-width="1.45"/><line x1="396.10" y1="488.10" x2="400.30" y2="488.10" stroke="#000" stroke-width="1.55"/><text x="393.00" y="491.07" font-size="9.9" text-anchor="end" >0.0</text><line x1="396.10" y1="450.18" x2="400.30" y2="450.18" stroke="#000" stroke-width="1.55"/><text x="393.00" y="453.15" font-size="9.9" text-anchor="end" >0.2</text><line x1="396.10" y1="412.26" x2="400.30" y2="412.26" stroke="#000" stroke-width="1.55"/><text x="393.00" y="415.23" font-size="9.9" text-anchor="end" >0.4</text><line x1="396.10" y1="374.34" x2="400.30" y2="374.34" stroke="#000" stroke-width="1.55"/><text x="393.00" y="377.31" font-size="9.9" text-anchor="end" >0.6</text><line x1="396.10" y1="336.42" x2="400.30" y2="336.42" stroke="#000" stroke-width="1.55"/><text x="393.00" y="339.39" font-size="9.9" text-anchor="end" >0.8</text><line x1="396.10" y1="298.50" x2="400.30" y2="298.50" stroke="#000" stroke-width="1.55"/><text x="393.00" y="301.47" font-size="9.9" text-anchor="end" >1.0</text><line x1="398.10" y1="469.14" x2="400.30" y2="469.14" stroke="#000" stroke-width="1.55"/><line x1="398.10" y1="431.22" x2="400.30" y2="431.22" stroke="#000" stroke-width="1.55"/><line x1="398.10" y1="393.30" x2="400.30" y2="393.30" stroke="#000" stroke-width="1.55"/><line x1="398.10" y1="355.38" x2="400.30" y2="355.38" stroke="#000" stroke-width="1.55"/><line x1="398.10" y1="317.46" x2="400.30" y2="317.46" stroke="#000" stroke-width="1.55"/><line x1="465.00" y1="488.10" x2="465.00" y2="492.30" stroke="#000" stroke-width="1.55"/><text x="465.00" y="502.80" font-size="9.9" text-anchor="middle" >0</text><line x1="495.25" y1="488.10" x2="495.25" y2="492.30" stroke="#000" stroke-width="1.55"/><text x="495.25" y="502.80" font-size="9.9" text-anchor="middle" >30</text><line x1="525.50" y1="488.10" x2="525.50" y2="492.30" stroke="#000" stroke-width="1.55"/><text x="525.50" y="502.80" font-size="9.9" text-anchor="middle" >60</text><line x1="555.75" y1="488.10" x2="555.75" y2="492.30" stroke="#000" stroke-width="1.55"/><text x="555.75" y="502.80" font-size="9.9" text-anchor="middle" >90</text><line x1="586.00" y1="488.10" x2="586.00" y2="492.30" stroke="#000" stroke-width="1.55"/><text x="586.00" y="502.80" font-size="9.9" text-anchor="middle" >120</text><line x1="616.25" y1="488.10" x2="616.25" y2="492.30" stroke="#000" stroke-width="1.55"/><text x="616.25" y="502.80" font-size="9.9" text-anchor="middle" >150</text><line x1="646.50" y1="488.10" x2="646.50" y2="492.30" stroke="#000" stroke-width="1.55"/><text x="646.50" y="502.80" font-size="9.9" text-anchor="middle" >180</text><line x1="449.88" y1="488.10" x2="449.88" y2="490.30" stroke="#000" stroke-width="1.55"/><line x1="480.12" y1="488.10" x2="480.12" y2="490.30" stroke="#000" stroke-width="1.55"/><line x1="510.38" y1="488.10" x2="510.38" y2="490.30" stroke="#000" stroke-width="1.55"/><line x1="540.62" y1="488.10" x2="540.62" y2="490.30" stroke="#000" stroke-width="1.55"/><line x1="570.88" y1="488.10" x2="570.88" y2="490.30" stroke="#000" stroke-width="1.55"/><line x1="601.12" y1="488.10" x2="601.12" y2="490.30" stroke="#000" stroke-width="1.55"/><line x1="631.38" y1="488.10" x2="631.38" y2="490.30" stroke="#000" stroke-width="1.55"/><line x1="415.43" y1="488.10" x2="415.43" y2="490.30" stroke="#000" stroke-width="1.55"/><line x1="400.30" y1="488.10" x2="400.30" y2="492.30" stroke="#000" stroke-width="1.55"/><text x="400.10" y="502.80" font-size="9.9" text-anchor="middle" >-120</text><text x="523.40" y="522.60" font-size="13.1" text-anchor="middle" >Time (min)</text><text transform="translate(373.00,388.95) rotate(-90)" font-size="13.5" text-anchor="middle">C/C<tspan dy="3.78" font-size="8.78">0</tspan><tspan dy="-3.78" font-size="13.5">&#8203;</tspan></text><text x="474.90" y="306.50" font-size="10.1" text-anchor="start" >Light</text><text x="523.00" y="306.50" font-size="10.3" text-anchor="start" >H<tspan dy="2.80" font-size="6.50">2</tspan><tspan dy="-2.80" font-size="10">&#8203;</tspan>PO<tspan dy="2.80" font-size="6.50">4</tspan><tspan dy="-2.80" font-size="10">&#8203;</tspan><tspan dy="-3.80" font-size="6.50">-</tspan><tspan dy="3.80" font-size="10">&#8203;</tspan></text><text x="628.90" y="303.60" font-size="10.3" text-anchor="start" >(d)</text><line x1="567.10" y1="300.50" x2="591.10" y2="300.50" stroke="#000000" stroke-width="1.35"/><circle cx="579.10" cy="300.50" r="2.5" fill="#000000"/><circle cx="578.55" cy="299.85" r="0.85" fill="#fff" fill-opacity="0.85"/><text x="593.50" y="303.65" font-size="10.0" text-anchor="start" >0</text><line x1="567.10" y1="313.10" x2="591.10" y2="313.10" stroke="#f04040" stroke-width="1.35"/><circle cx="579.10" cy="313.10" r="2.5" fill="#f04040"/><circle cx="578.55" cy="312.45" r="0.85" fill="#fff" fill-opacity="0.85"/><text x="593.50" y="316.25" font-size="10.0" text-anchor="start" >1 mM</text><line x1="567.10" y1="326.00" x2="591.10" y2="326.00" stroke="#1060d8" stroke-width="1.35"/><circle cx="579.10" cy="326.00" r="2.5" fill="#1060d8"/><circle cx="578.55" cy="325.35" r="0.85" fill="#fff" fill-opacity="0.85"/><text x="593.50" y="329.15" font-size="10.0" text-anchor="start" >5 mM</text><line x1="567.10" y1="339.00" x2="591.10" y2="339.00" stroke="#10a060" stroke-width="1.35"/><circle cx="579.10" cy="339.00" r="2.5" fill="#10a060"/><circle cx="578.55" cy="338.35" r="0.85" fill="#fff" fill-opacity="0.85"/><text x="593.50" y="342.15" font-size="10.0" text-anchor="start" >10 mM</text><clipPath id="ce"><rect x="45.0" y="566.0" width="246.5" height="199.3"/></clipPath><rect x="45.00" y="566.00" width="246.50" height="199.00" fill="none" stroke="#000" stroke-width="1.55"/><line x1="109.60" y1="568.40" x2="109.60" y2="765.00" stroke="#ff0000" stroke-width="1.5" stroke-dasharray="6.2 2.3 1.3 2.2"/><g clip-path="url(#ce)"><path d="M45.00 576.02 L75.00 596.40" fill="none" stroke="#555555" stroke-width="1.45" stroke-linejoin="round"/><path d="M79.50 598.20 L109.60 603.92 L124.76 724.26 L139.92 756.47 L170.23 764.43 L200.55 765.00 L291.50 765.00" fill="none" stroke="#555555" stroke-width="1.45" stroke-linejoin="round"/><circle cx="45.00" cy="575.50" r="2.5" fill="#555555"/><circle cx="44.45" cy="574.85" r="0.85" fill="#fff" fill-opacity="0.85"/><circle cx="109.60" cy="603.92" r="2.5" fill="#555555"/><circle cx="109.05" cy="603.27" r="0.85" fill="#fff" fill-opacity="0.85"/><circle cx="124.76" cy="724.26" r="2.5" fill="#555555"/><circle cx="124.21" cy="723.61" r="0.85" fill="#fff" fill-opacity="0.85"/><circle cx="139.92" cy="756.47" r="2.5" fill="#555555"/><circle cx="139.37" cy="755.82" r="0.85" fill="#fff" fill-opacity="0.85"/><circle cx="170.23" cy="764.43" r="2.5" fill="#555555"/><circle cx="169.68" cy="763.78" r="0.85" fill="#fff" fill-opacity="0.85"/><circle cx="200.55" cy="765.00" r="2.5" fill="#555555"/><circle cx="200.00" cy="764.35" r="0.85" fill="#fff" fill-opacity="0.85"/><circle cx="291.50" cy="765.00" r="2.5" fill="#555555"/><circle cx="290.95" cy="764.35" r="0.85" fill="#fff" fill-opacity="0.85"/><path d="M45.00 575.82 L75.00 595.90" fill="none" stroke="#f04040" stroke-width="1.45" stroke-linejoin="round"/><path d="M79.50 597.70 L109.60 603.36 L124.76 653.20 L139.92 665.51 L170.23 680.10 L200.55 686.36 L291.50 691.10" fill="none" stroke="#f04040" stroke-width="1.45" stroke-linejoin="round"/><circle cx="45.00" cy="575.50" r="2.5" fill="#f04040"/><circle cx="44.45" cy="574.85" r="0.85" fill="#fff" fill-opacity="0.85"/><circle cx="109.60" cy="603.36" r="2.5" fill="#f04040"/><circle cx="109.05" cy="602.71" r="0.85" fill="#fff" fill-opacity="0.85"/><circle cx="124.76" cy="653.20" r="2.5" fill="#f04040"/><circle cx="124.21" cy="652.55" r="0.85" fill="#fff" fill-opacity="0.85"/><circle cx="139.92" cy="665.51" r="2.5" fill="#f04040"/><circle cx="139.37" cy="664.86" r="0.85" fill="#fff" fill-opacity="0.85"/><circle cx="170.23" cy="680.10" r="2.5" fill="#f04040"/><circle cx="169.68" cy="679.45" r="0.85" fill="#fff" fill-opacity="0.85"/><circle cx="200.55" cy="686.36" r="2.5" fill="#f04040"/><circle cx="200.00" cy="685.71" r="0.85" fill="#fff" fill-opacity="0.85"/><circle cx="291.50" cy="691.10" r="2.5" fill="#f04040"/><circle cx="290.95" cy="690.45" r="0.85" fill="#fff" fill-opacity="0.85"/><path d="M45.00 575.58 L75.00 595.30" fill="none" stroke="#1060d8" stroke-width="1.45" stroke-linejoin="round"/><path d="M79.50 597.10 L109.60 602.03 L124.76 606.20 L139.92 610.18 L170.23 614.16 L200.55 616.05 L291.50 619.09" fill="none" stroke="#1060d8" stroke-width="1.45" stroke-linejoin="round"/><circle cx="45.00" cy="575.50" r="2.5" fill="#1060d8"/><circle cx="44.45" cy="574.85" r="0.85" fill="#fff" fill-opacity="0.85"/><circle cx="109.60" cy="602.03" r="2.5" fill="#1060d8"/><circle cx="109.05" cy="601.38" r="0.85" fill="#fff" fill-opacity="0.85"/><circle cx="124.76" cy="606.20" r="2.5" fill="#1060d8"/><circle cx="124.21" cy="605.55" r="0.85" fill="#fff" fill-opacity="0.85"/><circle cx="139.92" cy="610.18" r="2.5" fill="#1060d8"/><circle cx="139.37" cy="609.53" r="0.85" fill="#fff" fill-opacity="0.85"/><circle cx="170.23" cy="614.16" r="2.5" fill="#1060d8"/><circle cx="169.68" cy="613.51" r="0.85" fill="#fff" fill-opacity="0.85"/><circle cx="200.55" cy="616.05" r="2.5" fill="#1060d8"/><circle cx="200.00" cy="615.40" r="0.85" fill="#fff" fill-opacity="0.85"/><circle cx="291.50" cy="619.09" r="2.5" fill="#1060d8"/><circle cx="290.95" cy="618.44" r="0.85" fill="#fff" fill-opacity="0.85"/><path d="M45.00 575.22 L75.00 594.40" fill="none" stroke="#10a060" stroke-width="1.45" stroke-linejoin="round"/><path d="M79.50 596.20 L109.60 603.55 L124.76 609.99 L139.92 611.88 L170.23 618.52 L200.55 619.09 L291.50 620.41" fill="none" stroke="#10a060" stroke-width="1.45" stroke-linejoin="round"/><circle cx="45.00" cy="575.50" r="2.5" fill="#10a060"/><circle cx="44.45" cy="574.85" r="0.85" fill="#fff" fill-opacity="0.85"/><circle cx="109.60" cy="603.55" r="2.5" fill="#10a060"/><circle cx="109.05" cy="602.90" r="0.85" fill="#fff" fill-opacity="0.85"/><circle cx="124.76" cy="609.99" r="2.5" fill="#10a060"/><circle cx="124.21" cy="609.34" r="0.85" fill="#fff" fill-opacity="0.85"/><circle cx="139.92" cy="611.88" r="2.5" fill="#10a060"/><circle cx="139.37" cy="611.23" r="0.85" fill="#fff" fill-opacity="0.85"/><circle cx="170.23" cy="618.52" r="2.5" fill="#10a060"/><circle cx="169.68" cy="617.87" r="0.85" fill="#fff" fill-opacity="0.85"/><circle cx="200.55" cy="619.09" r="2.5" fill="#10a060"/><circle cx="200.00" cy="618.44" r="0.85" fill="#fff" fill-opacity="0.85"/><circle cx="291.50" cy="620.41" r="2.5" fill="#10a060"/><circle cx="290.95" cy="619.76" r="0.85" fill="#fff" fill-opacity="0.85"/></g><rect x="75.20" y="564.80" width="4.6" height="2.4" fill="#fff"/><line x1="73.40" y1="567.70" x2="77.20" y2="564.30" stroke="#000" stroke-width="1.45"/><line x1="77.80" y1="567.70" x2="81.60" y2="564.30" stroke="#000" stroke-width="1.45"/><rect x="75.20" y="763.80" width="4.6" height="2.4" fill="#fff"/><line x1="73.40" y1="766.70" x2="77.20" y2="763.30" stroke="#000" stroke-width="1.45"/><line x1="77.80" y1="766.70" x2="81.60" y2="763.30" stroke="#000" stroke-width="1.45"/><line x1="40.80" y1="765.00" x2="45.00" y2="765.00" stroke="#000" stroke-width="1.55"/><text x="37.70" y="767.97" font-size="9.9" text-anchor="end" >0.0</text><line x1="40.80" y1="727.10" x2="45.00" y2="727.10" stroke="#000" stroke-width="1.55"/><text x="37.70" y="730.07" font-size="9.9" text-anchor="end" >0.2</text><line x1="40.80" y1="689.20" x2="45.00" y2="689.20" stroke="#000" stroke-width="1.55"/><text x="37.70" y="692.17" font-size="9.9" text-anchor="end" >0.4</text><line x1="40.80" y1="651.30" x2="45.00" y2="651.30" stroke="#000" stroke-width="1.55"/><text x="37.70" y="654.27" font-size="9.9" text-anchor="end" >0.6</text><line x1="40.80" y1="613.40" x2="45.00" y2="613.40" stroke="#000" stroke-width="1.55"/><text x="37.70" y="616.37" font-size="9.9" text-anchor="end" >0.8</text><line x1="40.80" y1="575.50" x2="45.00" y2="575.50" stroke="#000" stroke-width="1.55"/><text x="37.70" y="578.47" font-size="9.9" text-anchor="end" >1.0</text><line x1="42.80" y1="746.05" x2="45.00" y2="746.05" stroke="#000" stroke-width="1.55"/><line x1="42.80" y1="708.15" x2="45.00" y2="708.15" stroke="#000" stroke-width="1.55"/><line x1="42.80" y1="670.25" x2="45.00" y2="670.25" stroke="#000" stroke-width="1.55"/><line x1="42.80" y1="632.35" x2="45.00" y2="632.35" stroke="#000" stroke-width="1.55"/><line x1="42.80" y1="594.45" x2="45.00" y2="594.45" stroke="#000" stroke-width="1.55"/><line x1="109.60" y1="765.00" x2="109.60" y2="769.20" stroke="#000" stroke-width="1.55"/><text x="109.60" y="779.70" font-size="9.9" text-anchor="middle" >0</text><line x1="139.92" y1="765.00" x2="139.92" y2="769.20" stroke="#000" stroke-width="1.55"/><text x="139.92" y="779.70" font-size="9.9" text-anchor="middle" >30</text><line x1="170.23" y1="765.00" x2="170.23" y2="769.20" stroke="#000" stroke-width="1.55"/><text x="170.23" y="779.70" font-size="9.9" text-anchor="middle" >60</text><line x1="200.55" y1="765.00" x2="200.55" y2="769.20" stroke="#000" stroke-width="1.55"/><text x="200.55" y="779.70" font-size="9.9" text-anchor="middle" >90</text><line x1="230.87" y1="765.00" x2="230.87" y2="769.20" stroke="#000" stroke-width="1.55"/><text x="230.87" y="779.70" font-size="9.9" text-anchor="middle" >120</text><line x1="261.18" y1="765.00" x2="261.18" y2="769.20" stroke="#000" stroke-width="1.55"/><text x="261.18" y="779.70" font-size="9.9" text-anchor="middle" >150</text><line x1="291.50" y1="765.00" x2="291.50" y2="769.20" stroke="#000" stroke-width="1.55"/><text x="291.50" y="779.70" font-size="9.9" text-anchor="middle" >180</text><line x1="94.44" y1="765.00" x2="94.44" y2="767.20" stroke="#000" stroke-width="1.55"/><line x1="124.76" y1="765.00" x2="124.76" y2="767.20" stroke="#000" stroke-width="1.55"/><line x1="155.07" y1="765.00" x2="155.07" y2="767.20" stroke="#000" stroke-width="1.55"/><line x1="185.39" y1="765.00" x2="185.39" y2="767.20" stroke="#000" stroke-width="1.55"/><line x1="215.71" y1="765.00" x2="215.71" y2="767.20" stroke="#000" stroke-width="1.55"/><line x1="246.03" y1="765.00" x2="246.03" y2="767.20" stroke="#000" stroke-width="1.55"/><line x1="276.34" y1="765.00" x2="276.34" y2="767.20" stroke="#000" stroke-width="1.55"/><line x1="60.16" y1="765.00" x2="60.16" y2="767.20" stroke="#000" stroke-width="1.55"/><line x1="45.00" y1="765.00" x2="45.00" y2="769.20" stroke="#000" stroke-width="1.55"/><text x="44.80" y="779.70" font-size="9.9" text-anchor="middle" >-120</text><text x="168.25" y="799.50" font-size="13.1" text-anchor="middle" >Time (min)</text><text transform="translate(17.70,665.90) rotate(-90)" font-size="13.5" text-anchor="middle">C/C<tspan dy="3.78" font-size="8.78">0</tspan><tspan dy="-3.78" font-size="13.5">&#8203;</tspan></text><text x="120.20" y="588.80" font-size="10.1" text-anchor="start" >Light</text><text x="188.50" y="582.50" font-size="10.3" text-anchor="start" >HCO<tspan dy="2.80" font-size="6.50">3</tspan><tspan dy="-2.80" font-size="10">&#8203;</tspan><tspan dy="-3.80" font-size="6.50">-</tspan><tspan dy="3.80" font-size="10">&#8203;</tspan></text><text x="278.60" y="576.80" font-size="10.3" text-anchor="start" >(e)</text><line x1="224.60" y1="573.00" x2="248.60" y2="573.00" stroke="#555555" stroke-width="1.35"/><circle cx="236.60" cy="573.00" r="2.5" fill="#555555"/><circle cx="236.05" cy="572.35" r="0.85" fill="#fff" fill-opacity="0.85"/><text x="250.80" y="576.15" font-size="10.0" text-anchor="start" >0</text><line x1="224.60" y1="586.10" x2="248.60" y2="586.10" stroke="#f04040" stroke-width="1.35"/><circle cx="236.60" cy="586.10" r="2.5" fill="#f04040"/><circle cx="236.05" cy="585.45" r="0.85" fill="#fff" fill-opacity="0.85"/><text x="250.80" y="589.25" font-size="10.0" text-anchor="start" >1 mM</text><line x1="224.60" y1="599.00" x2="248.60" y2="599.00" stroke="#1060d8" stroke-width="1.35"/><circle cx="236.60" cy="599.00" r="2.5" fill="#1060d8"/><circle cx="236.05" cy="598.35" r="0.85" fill="#fff" fill-opacity="0.85"/><text x="250.80" y="602.15" font-size="10.0" text-anchor="start" >5 mM</text><line x1="224.60" y1="612.10" x2="248.60" y2="612.10" stroke="#10a060" stroke-width="1.35"/><circle cx="236.60" cy="612.10" r="2.5" fill="#10a060"/><circle cx="236.05" cy="611.45" r="0.85" fill="#fff" fill-opacity="0.85"/><text x="250.80" y="615.25" font-size="10.0" text-anchor="start" >10 mM</text><clipPath id="cf"><rect x="399.25" y="567.85" width="247.04999999999995" height="199.95"/></clipPath><rect x="399.25" y="567.85" width="247.05" height="199.65" fill="none" stroke="#000" stroke-width="1.55"/><line x1="464.20" y1="570.25" x2="464.20" y2="767.50" stroke="#ff0000" stroke-width="1.5" stroke-dasharray="6.2 2.3 1.3 2.2"/><g clip-path="url(#cf)"><path d="M399.25 578.02 L429.50 598.70" fill="none" stroke="#555555" stroke-width="1.45" stroke-linejoin="round"/><path d="M434.00 600.40 L464.20 606.00 L479.38 726.65 L494.55 759.52 L524.90 766.93 L555.25 767.50 L646.30 767.50" fill="none" stroke="#555555" stroke-width="1.45" stroke-linejoin="round"/><circle cx="399.25" cy="577.50" r="2.5" fill="#555555"/><circle cx="398.70" cy="576.85" r="0.85" fill="#fff" fill-opacity="0.85"/><circle cx="464.20" cy="606.00" r="2.5" fill="#555555"/><circle cx="463.65" cy="605.35" r="0.85" fill="#fff" fill-opacity="0.85"/><circle cx="479.38" cy="726.65" r="2.5" fill="#555555"/><circle cx="478.82" cy="726.00" r="0.85" fill="#fff" fill-opacity="0.85"/><circle cx="494.55" cy="759.52" r="2.5" fill="#555555"/><circle cx="494.00" cy="758.87" r="0.85" fill="#fff" fill-opacity="0.85"/><circle cx="524.90" cy="766.93" r="2.5" fill="#555555"/><circle cx="524.35" cy="766.28" r="0.85" fill="#fff" fill-opacity="0.85"/><circle cx="555.25" cy="767.50" r="2.5" fill="#555555"/><circle cx="554.70" cy="766.85" r="0.85" fill="#fff" fill-opacity="0.85"/><circle cx="646.30" cy="767.50" r="2.5" fill="#555555"/><circle cx="645.75" cy="766.85" r="0.85" fill="#fff" fill-opacity="0.85"/><path d="M399.25 577.82 L429.50 598.20" fill="none" stroke="#f04040" stroke-width="1.45" stroke-linejoin="round"/><path d="M434.00 599.90 L464.20 605.43 L479.38 730.45 L494.55 755.72 L524.90 765.60 L555.25 766.55 L646.30 767.50" fill="none" stroke="#f04040" stroke-width="1.45" stroke-linejoin="round"/><circle cx="399.25" cy="577.50" r="2.5" fill="#f04040"/><circle cx="398.70" cy="576.85" r="0.85" fill="#fff" fill-opacity="0.85"/><circle cx="464.20" cy="605.43" r="2.5" fill="#f04040"/><circle cx="463.65" cy="604.78" r="0.85" fill="#fff" fill-opacity="0.85"/><circle cx="479.38" cy="730.45" r="2.5" fill="#f04040"/><circle cx="478.82" cy="729.80" r="0.85" fill="#fff" fill-opacity="0.85"/><circle cx="494.55" cy="755.72" r="2.5" fill="#f04040"/><circle cx="494.00" cy="755.07" r="0.85" fill="#fff" fill-opacity="0.85"/><circle cx="524.90" cy="765.60" r="2.5" fill="#f04040"/><circle cx="524.35" cy="764.95" r="0.85" fill="#fff" fill-opacity="0.85"/><circle cx="555.25" cy="766.55" r="2.5" fill="#f04040"/><circle cx="554.70" cy="765.90" r="0.85" fill="#fff" fill-opacity="0.85"/><circle cx="646.30" cy="767.50" r="2.5" fill="#f04040"/><circle cx="645.75" cy="766.85" r="0.85" fill="#fff" fill-opacity="0.85"/><path d="M399.25 577.58 L429.50 597.60" fill="none" stroke="#1060d8" stroke-width="1.45" stroke-linejoin="round"/><path d="M434.00 599.30 L464.20 604.10 L479.38 689.98 L494.55 705.37 L524.90 715.25 L555.25 719.05 L646.30 740.90" fill="none" stroke="#1060d8" stroke-width="1.45" stroke-linejoin="round"/><circle cx="399.25" cy="577.50" r="2.5" fill="#1060d8"/><circle cx="398.70" cy="576.85" r="0.85" fill="#fff" fill-opacity="0.85"/><circle cx="464.20" cy="604.10" r="2.5" fill="#1060d8"/><circle cx="463.65" cy="603.45" r="0.85" fill="#fff" fill-opacity="0.85"/><circle cx="479.38" cy="689.98" r="2.5" fill="#1060d8"/><circle cx="478.82" cy="689.33" r="0.85" fill="#fff" fill-opacity="0.85"/><circle cx="494.55" cy="705.37" r="2.5" fill="#1060d8"/><circle cx="494.00" cy="704.72" r="0.85" fill="#fff" fill-opacity="0.85"/><circle cx="524.90" cy="715.25" r="2.5" fill="#1060d8"/><circle cx="524.35" cy="714.60" r="0.85" fill="#fff" fill-opacity="0.85"/><circle cx="555.25" cy="719.05" r="2.5" fill="#1060d8"/><circle cx="554.70" cy="718.40" r="0.85" fill="#fff" fill-opacity="0.85"/><circle cx="646.30" cy="740.90" r="2.5" fill="#1060d8"/><circle cx="645.75" cy="740.25" r="0.85" fill="#fff" fill-opacity="0.85"/><path d="M399.25 577.22 L429.50 596.70" fill="none" stroke="#10a060" stroke-width="1.45" stroke-linejoin="round"/><path d="M434.00 598.40 L464.20 605.05 L479.38 669.27 L494.55 670.60 L524.90 677.44 L555.25 697.20 L646.30 718.10" fill="none" stroke="#10a060" stroke-width="1.45" stroke-linejoin="round"/><circle cx="399.25" cy="577.50" r="2.5" fill="#10a060"/><circle cx="398.70" cy="576.85" r="0.85" fill="#fff" fill-opacity="0.85"/><circle cx="464.20" cy="605.05" r="2.5" fill="#10a060"/><circle cx="463.65" cy="604.40" r="0.85" fill="#fff" fill-opacity="0.85"/><circle cx="479.38" cy="669.27" r="2.5" fill="#10a060"/><circle cx="478.82" cy="668.62" r="0.85" fill="#fff" fill-opacity="0.85"/><circle cx="494.55" cy="670.60" r="2.5" fill="#10a060"/><circle cx="494.00" cy="669.95" r="0.85" fill="#fff" fill-opacity="0.85"/><circle cx="524.90" cy="677.44" r="2.5" fill="#10a060"/><circle cx="524.35" cy="676.79" r="0.85" fill="#fff" fill-opacity="0.85"/><circle cx="555.25" cy="697.20" r="2.5" fill="#10a060"/><circle cx="554.70" cy="696.55" r="0.85" fill="#fff" fill-opacity="0.85"/><circle cx="646.30" cy="718.10" r="2.5" fill="#10a060"/><circle cx="645.75" cy="717.45" r="0.85" fill="#fff" fill-opacity="0.85"/></g><rect x="429.35" y="566.65" width="4.6" height="2.4" fill="#fff"/><line x1="427.55" y1="569.55" x2="431.35" y2="566.15" stroke="#000" stroke-width="1.45"/><line x1="431.95" y1="569.55" x2="435.75" y2="566.15" stroke="#000" stroke-width="1.45"/><rect x="429.35" y="766.30" width="4.6" height="2.4" fill="#fff"/><line x1="427.55" y1="769.20" x2="431.35" y2="765.80" stroke="#000" stroke-width="1.45"/><line x1="431.95" y1="769.20" x2="435.75" y2="765.80" stroke="#000" stroke-width="1.45"/><line x1="395.05" y1="767.50" x2="399.25" y2="767.50" stroke="#000" stroke-width="1.55"/><text x="391.95" y="770.47" font-size="9.9" text-anchor="end" >0.0</text><line x1="395.05" y1="729.50" x2="399.25" y2="729.50" stroke="#000" stroke-width="1.55"/><text x="391.95" y="732.47" font-size="9.9" text-anchor="end" >0.2</text><line x1="395.05" y1="691.50" x2="399.25" y2="691.50" stroke="#000" stroke-width="1.55"/><text x="391.95" y="694.47" font-size="9.9" text-anchor="end" >0.4</text><line x1="395.05" y1="653.50" x2="399.25" y2="653.50" stroke="#000" stroke-width="1.55"/><text x="391.95" y="656.47" font-size="9.9" text-anchor="end" >0.6</text><line x1="395.05" y1="615.50" x2="399.25" y2="615.50" stroke="#000" stroke-width="1.55"/><text x="391.95" y="618.47" font-size="9.9" text-anchor="end" >0.8</text><line x1="395.05" y1="577.50" x2="399.25" y2="577.50" stroke="#000" stroke-width="1.55"/><text x="391.95" y="580.47" font-size="9.9" text-anchor="end" >1.0</text><line x1="397.05" y1="748.50" x2="399.25" y2="748.50" stroke="#000" stroke-width="1.55"/><line x1="397.05" y1="710.50" x2="399.25" y2="710.50" stroke="#000" stroke-width="1.55"/><line x1="397.05" y1="672.50" x2="399.25" y2="672.50" stroke="#000" stroke-width="1.55"/><line x1="397.05" y1="634.50" x2="399.25" y2="634.50" stroke="#000" stroke-width="1.55"/><line x1="397.05" y1="596.50" x2="399.25" y2="596.50" stroke="#000" stroke-width="1.55"/><line x1="464.20" y1="767.50" x2="464.20" y2="771.70" stroke="#000" stroke-width="1.55"/><text x="464.20" y="782.20" font-size="9.9" text-anchor="middle" >0</text><line x1="494.55" y1="767.50" x2="494.55" y2="771.70" stroke="#000" stroke-width="1.55"/><text x="494.55" y="782.20" font-size="9.9" text-anchor="middle" >30</text><line x1="524.90" y1="767.50" x2="524.90" y2="771.70" stroke="#000" stroke-width="1.55"/><text x="524.90" y="782.20" font-size="9.9" text-anchor="middle" >60</text><line x1="555.25" y1="767.50" x2="555.25" y2="771.70" stroke="#000" stroke-width="1.55"/><text x="555.25" y="782.20" font-size="9.9" text-anchor="middle" >90</text><line x1="585.60" y1="767.50" x2="585.60" y2="771.70" stroke="#000" stroke-width="1.55"/><text x="585.60" y="782.20" font-size="9.9" text-anchor="middle" >120</text><line x1="615.95" y1="767.50" x2="615.95" y2="771.70" stroke="#000" stroke-width="1.55"/><text x="615.95" y="782.20" font-size="9.9" text-anchor="middle" >150</text><line x1="646.30" y1="767.50" x2="646.30" y2="771.70" stroke="#000" stroke-width="1.55"/><text x="646.30" y="782.20" font-size="9.9" text-anchor="middle" >180</text><line x1="449.02" y1="767.50" x2="449.02" y2="769.70" stroke="#000" stroke-width="1.55"/><line x1="479.38" y1="767.50" x2="479.38" y2="769.70" stroke="#000" stroke-width="1.55"/><line x1="509.72" y1="767.50" x2="509.72" y2="769.70" stroke="#000" stroke-width="1.55"/><line x1="540.07" y1="767.50" x2="540.07" y2="769.70" stroke="#000" stroke-width="1.55"/><line x1="570.42" y1="767.50" x2="570.42" y2="769.70" stroke="#000" stroke-width="1.55"/><line x1="600.77" y1="767.50" x2="600.77" y2="769.70" stroke="#000" stroke-width="1.55"/><line x1="631.12" y1="767.50" x2="631.12" y2="769.70" stroke="#000" stroke-width="1.55"/><line x1="414.43" y1="767.50" x2="414.43" y2="769.70" stroke="#000" stroke-width="1.55"/><line x1="399.25" y1="767.50" x2="399.25" y2="771.70" stroke="#000" stroke-width="1.55"/><text x="399.05" y="782.20" font-size="9.9" text-anchor="middle" >-120</text><text x="522.77" y="802.00" font-size="13.1" text-anchor="middle" >Time (min)</text><text transform="translate(372.00,668.07) rotate(-90)" font-size="13.5" text-anchor="middle">C/C<tspan dy="3.78" font-size="8.78">0</tspan><tspan dy="-3.78" font-size="13.5">&#8203;</tspan></text><text x="476.40" y="597.60" font-size="10.1" text-anchor="start" >Light</text><text x="539.80" y="583.30" font-size="10.3" text-anchor="start" >SO<tspan dy="2.80" font-size="6.50">4</tspan><tspan dy="-2.80" font-size="10">&#8203;</tspan><tspan dy="-3.80" font-size="6.50">2-</tspan><tspan dy="3.80" font-size="10">&#8203;</tspan></text><text x="630.50" y="581.40" font-size="10.3" text-anchor="start" >(f)</text><line x1="570.00" y1="578.00" x2="594.00" y2="578.00" stroke="#555555" stroke-width="1.35"/><circle cx="582.00" cy="578.00" r="2.5" fill="#555555"/><circle cx="581.45" cy="577.35" r="0.85" fill="#fff" fill-opacity="0.85"/><text x="596.80" y="581.15" font-size="10.0" text-anchor="start" >0</text><line x1="570.00" y1="591.10" x2="594.00" y2="591.10" stroke="#f04040" stroke-width="1.35"/><circle cx="582.00" cy="591.10" r="2.5" fill="#f04040"/><circle cx="581.45" cy="590.45" r="0.85" fill="#fff" fill-opacity="0.85"/><text x="596.80" y="594.25" font-size="10.0" text-anchor="start" >1 mM</text><line x1="570.00" y1="604.20" x2="594.00" y2="604.20" stroke="#1060d8" stroke-width="1.35"/><circle cx="582.00" cy="604.20" r="2.5" fill="#1060d8"/><circle cx="581.45" cy="603.55" r="0.85" fill="#fff" fill-opacity="0.85"/><text x="596.80" y="607.35" font-size="10.0" text-anchor="start" >5 mM</text><line x1="570.00" y1="617.10" x2="594.00" y2="617.10" stroke="#10a060" stroke-width="1.35"/><circle cx="582.00" cy="617.10" r="2.5" fill="#10a060"/><circle cx="581.45" cy="616.45" r="0.85" fill="#fff" fill-opacity="0.85"/><text x="596.80" y="620.25" font-size="10.0" text-anchor="start" >10 mM</text></svg></body></html>
